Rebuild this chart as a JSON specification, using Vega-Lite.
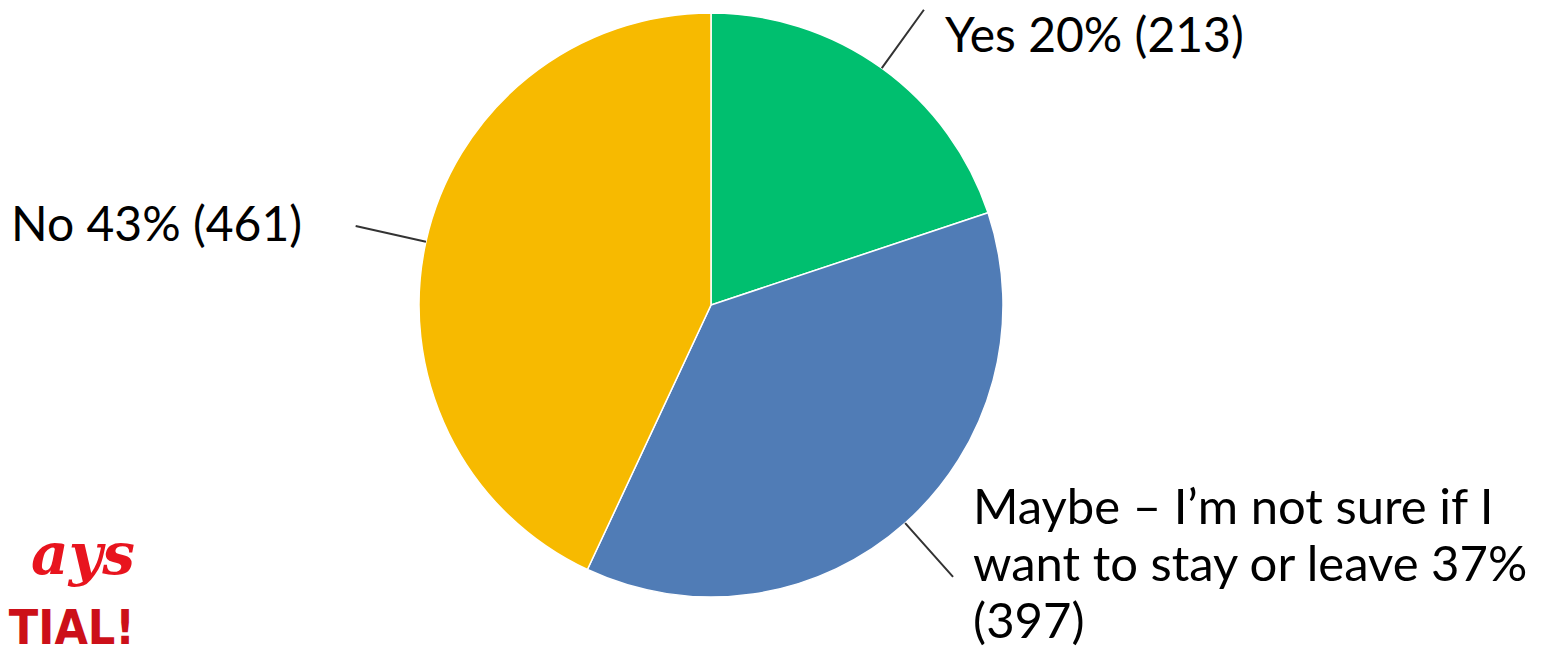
{
  "$schema": "https://vega.github.io/schema/vega-lite/v6.json",
  "width": 584,
  "height": 584,
  "autosize": {"type": "none"},
  "padding": {"left": 419, "top": 13, "right": 553, "bottom": 69},
  "background": "white",
  "view": {"stroke": null},
  "title": {
    "text": "ays",
    "subtitle": "TIAL!",
    "anchor": "start",
    "orient": "top",
    "frame": "group",
    "align": "right",
    "dx": -284,
    "dy": 749,
    "font": "DejaVu Serif",
    "fontStyle": "italic",
    "fontWeight": "bold",
    "fontSize": 58,
    "color": "#E8141E",
    "subtitleFont": "'Liberation Sans Narrow', 'DejaVu Sans Condensed', 'DejaVu Sans', sans-serif",
    "subtitleFontWeight": "bold",
    "subtitleFontSize": 48,
    "subtitleColor": "#CC1019",
    "subtitlePadding": 20
  },
  "data": {
    "values": [
      {"answer": "Yes", "count": 213, "rank": 1, "label": "Yes 20% (213)"},
      {"answer": "Maybe", "count": 397, "rank": 2, "label": "Maybe – I’m not sure if I\nwant to stay or leave 37%\n(397)"},
      {"answer": "No", "count": 461, "rank": 3, "label": "No 43% (461)"}
    ]
  },
  "encoding": {
    "theta": {"field": "count", "type": "quantitative", "stack": true},
    "order": {"field": "rank", "type": "quantitative"}
  },
  "layer": [
    {
      "mark": {"type": "arc", "stroke": "white", "strokeWidth": 1.5},
      "encoding": {
        "color": {
          "field": "answer",
          "type": "nominal",
          "scale": {"domain": ["Yes", "Maybe", "No"], "range": ["#00BF6F", "#507CB6", "#F7BA00"]},
          "legend": null
        }
      }
    },
    {
      "mark": {"type": "arc", "filled": false, "stroke": "#333333", "strokeWidth": 2, "padAngle": 3, "radius": 364, "radius2": 292},
      "encoding": {"detail": {"field": "answer", "type": "nominal"}}
    },
    {
      "mark": {"type": "text", "radius": 330, "align": "left", "baseline": "middle", "dx": 41, "dy": 1, "font": "Lato", "fontSize": 48, "color": "black", "lineBreak": "\n"},
      "encoding": {
        "detail": {"field": "answer", "type": "nominal"},
        "text": {"condition": {"test": "datum.answer === 'Yes'", "field": "label"}, "value": ""}
      }
    },
    {
      "mark": {"type": "text", "radius": 380, "align": "right", "baseline": "middle", "dx": -38, "dy": 4, "font": "Lato", "fontSize": 48, "color": "black", "lineBreak": "\n"},
      "encoding": {
        "detail": {"field": "answer", "type": "nominal"},
        "text": {"condition": {"test": "datum.answer === 'No'", "field": "label"}, "value": ""}
      }
    },
    {
      "mark": {"type": "text", "radius": 370, "align": "left", "baseline": "alphabetic", "dx": 16, "dy": -57, "font": "Lato", "fontSize": 49, "lineHeight": 57, "color": "black", "lineBreak": "\n"},
      "encoding": {
        "detail": {"field": "answer", "type": "nominal"},
        "text": {"condition": {"test": "datum.answer === 'Maybe'", "field": "label"}, "value": ""}
      }
    }
  ]
}
